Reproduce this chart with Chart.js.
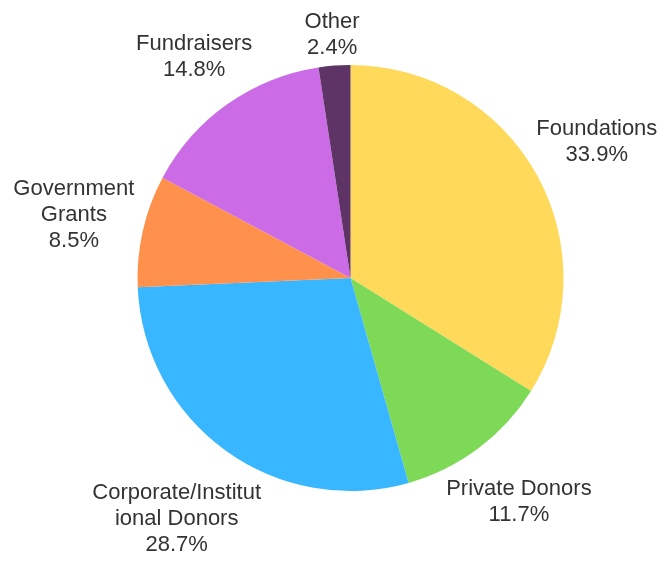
<!DOCTYPE html>
<html>
<head>
<meta charset="utf-8">
<script src="https://cdn.jsdelivr.net/npm/chart.js@4"></script>
<style>
html,body{margin:0;padding:0;background:#fff;}
#wrap{width:659px;height:563px;}
</style>
</head>
<body>
<div id="wrap"><canvas id="c" width="659" height="563"></canvas></div>
<script>
const categories = ["Foundations", "Private Donors", "Corporate/Institutional Donors", "Government Grants", "Fundraisers", "Other"];
const labelLines = [["Foundations"], ["Private Donors"], ["Corporate/Institut", "ional Donors"], ["Government", "Grants"], ["Fundraisers"], ["Other"]];
const values = [33.9, 11.7, 28.7, 8.5, 14.8, 2.4];
const colors = ["#FFD95A", "#7ED957", "#38B6FF", "#FF914D", "#CB6CE6", "#5E3366"];

const outsideLabels = {
  id: 'outsideLabels',
  afterDraw(chart) {
    const ctx = chart.ctx;
    const meta = chart.getDatasetMeta(0);
    const font = '22px "Liberation Sans", Arial, sans-serif';
    const lh = 26;
    ctx.save();
    ctx.font = font;
    ctx.fillStyle = '#333333';
    ctx.textAlign = 'center';
    ctx.textBaseline = 'middle';
    meta.data.forEach((arc, i) => {
      const p = arc.getProps(['x','y','startAngle','endAngle','outerRadius'], true);
      const mid = (p.startAngle + p.endAngle) / 2;
      const dx = Math.cos(mid), dy = Math.sin(mid);
      const lines = labelLines[i].concat([values[i].toFixed(1) + '%']);
      let w = 0;
      lines.forEach(l => { w = Math.max(w, ctx.measureText(l).width); });
      const h = lines.length * lh;
      const ext = Math.abs(dx) * w / 2 + Math.abs(dy) * h / 2;
      const dist = p.outerRadius + 3 + ext;
      const cx = p.x + dx * dist, cy = p.y + dy * dist;
      lines.forEach((l, k) => {
        ctx.fillText(l, cx, cy - h / 2 + lh / 2 + k * lh);
      });
    });
    ctx.restore();
  }
};

new Chart(document.getElementById('c'), {
  type: 'pie',
  data: {
    labels: categories,
    datasets: [{ data: values, backgroundColor: colors, borderWidth: 0 }]
  },
  options: {
    responsive: false,
    animation: false,
    devicePixelRatio: 1,
    layout: { padding: { top: 65, bottom: 72, left: 137, right: 95 } },
    plugins: { legend: { display: false }, tooltip: { enabled: false } }
  },
  plugins: [outsideLabels]
});
</script>
</body>
</html>
